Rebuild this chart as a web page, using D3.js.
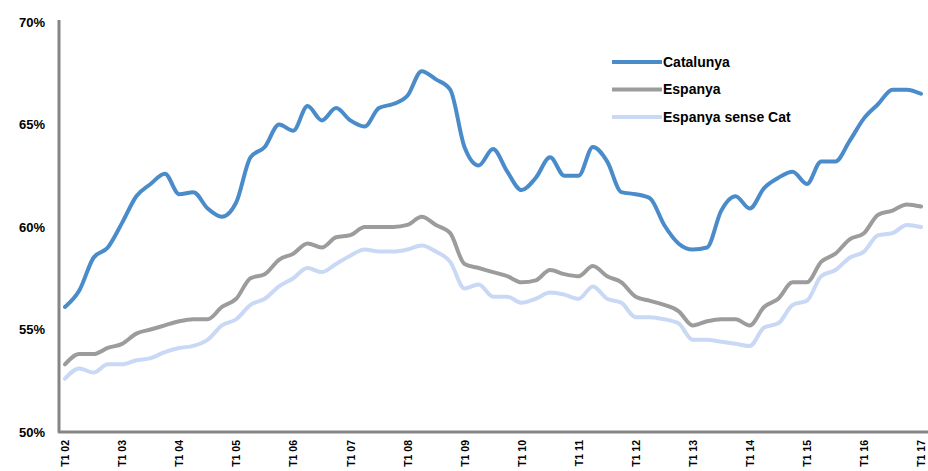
<!DOCTYPE html>
<html>
<head>
<meta charset="utf-8">
<script src="https://cdn.jsdelivr.net/npm/d3@7"></script>
<style>
  html, body { margin: 0; padding: 0; background: #fff; overflow: hidden; }
  svg text { font-family: "Liberation Sans", Arial, sans-serif; font-weight: bold; fill: #000; }
</style>
</head>
<body>
<svg id="chart" width="928" height="471"></svg>
<script>
// Quarterly rates, T1 2002 – T1 2017

const years = ["02", "03", "04", "05", "06", "07", "08", "09", "10", "11", "12", "13", "14", "15", "16", "17"];

const catalunya = [
  56.1, 56.9, 58.5, 59.0, 60.2, 61.5, 62.1, 62.6, 61.6, 61.7, 60.9, 60.5, 61.2, 63.4, 63.9, 65.0,
  64.7, 65.9, 65.2, 65.8, 65.2, 64.9, 65.8, 66.0, 66.4, 67.6, 67.2, 66.7, 63.9, 63.0, 63.8, 62.7,
  61.8, 62.4, 63.4, 62.5, 62.5, 63.9, 63.2, 61.7, 61.6, 61.4, 60.1, 59.2, 58.9, 59.0, 60.8, 61.5,
  60.9, 61.9, 62.4, 62.7, 62.1, 63.2, 63.2, 64.2, 65.3, 66.0, 66.7, 66.7, 66.5
];

const espanya = [
  53.3, 53.8, 53.8, 54.1, 54.3, 54.8, 55.0, 55.2, 55.4, 55.5, 55.5, 56.1, 56.5, 57.5, 57.7, 58.4,
  58.7, 59.2, 59.0, 59.5, 59.6, 60.0, 60.0, 60.0, 60.1, 60.5, 60.1, 59.7, 58.2, 58.0, 57.8, 57.6,
  57.3, 57.4, 57.9, 57.7, 57.6, 58.1, 57.6, 57.3, 56.6, 56.4, 56.2, 55.9, 55.2, 55.4, 55.5, 55.5,
  55.2, 56.1, 56.5, 57.3, 57.3, 58.3, 58.7, 59.4, 59.7, 60.6, 60.8, 61.1, 61.0
];

const espanyaSenseCat = [
  52.6, 53.1, 52.9, 53.3, 53.3, 53.5, 53.6, 53.9, 54.1, 54.2, 54.5, 55.2, 55.5, 56.2, 56.5, 57.1,
  57.5, 58.0, 57.8, 58.2, 58.6, 58.9, 58.8, 58.8, 58.9, 59.1, 58.8, 58.3, 57.0, 57.2, 56.6, 56.6,
  56.3, 56.5, 56.8, 56.7, 56.5, 57.1, 56.5, 56.3, 55.6, 55.6, 55.5, 55.3, 54.5, 54.5, 54.4, 54.3,
  54.2, 55.1, 55.3, 56.2, 56.4, 57.6, 57.9, 58.5, 58.8, 59.6, 59.7, 60.1, 60.0
];

const yTicks = [50, 55, 60, 65, 70];

const series = [
  { name: "Catalunya",         values: catalunya,       color: "#4a8bca" },
  { name: "Espanya",           values: espanya,         color: "#9c9c9c" },
  { name: "Espanya sense Cat", values: espanyaSenseCat, color: "#c9d8f5" }
];

// quarter labels "T1 02" ... "T1 17"
const periods = [];
years.forEach(y => {
  ["T1", "T2", "T3", "T4"].forEach(q => {
    if (periods.length < catalunya.length) periods.push(`${q} ${y}`);
  });
});

const svg = d3.select("#chart");
const margin = { top: 22, right: 7, bottom: 39, left: 65 };
const width = +svg.attr("width");
const height = +svg.attr("height");

const x = d3.scalePoint().domain(periods).range([margin.left, width - margin.right]);
const y = d3.scaleLinear().domain([50, 70]).range([height - margin.bottom, margin.top]);

// axis lines (Excel-style gray frame on left and bottom)
const axisColor = "#858585";
svg.append("path")
  .attr("d", `M59,${y(70) - 2} L59,${y(50)} L928,${y(50)}`)
  .attr("fill", "none")
  .attr("stroke", axisColor)
  .attr("stroke-width", 3)
  .attr("stroke-linejoin", "round");

// y labels
const yAxis = d3.axisLeft(y).tickValues(yTicks).tickFormat(d => d + "%").tickSize(0).tickPadding(0);
const gy = svg.append("g").attr("transform", "translate(45,0)").call(yAxis);
gy.select(".domain").remove();
gy.selectAll(".tick text").attr("font-size", 13).attr("font-family", null).attr("fill", "#000");

// x labels, rotated
const xAxis = d3.axisBottom(x).tickValues(periods.filter(p => p.startsWith("T1"))).tickSize(0);
const gx = svg.append("g").attr("transform", `translate(0,${y(50)})`).call(xAxis);
gx.select(".domain").remove();
gx.selectAll(".tick text")
  .attr("font-size", 10.5)
  .attr("font-family", null)
  .attr("fill", "#000")
  .attr("transform", "rotate(-90)")
  .attr("text-anchor", "end")
  .attr("x", -8)
  .attr("y", 0)
  .attr("dy", "0.35em");

const line = d3.line()
  .x((d, i) => x(periods[i]))
  .y(d => y(d))
  .curve(d3.curveMonotoneX);

// draw light series first so Catalunya sits on top
series.slice().reverse().forEach(s => {
  svg.append("path")
    .datum(s.values)
    .attr("fill", "none")
    .attr("stroke", s.color)
    .attr("stroke-width", 4)
    .attr("stroke-linejoin", "round")
    .attr("stroke-linecap", "round")
    .attr("d", line);
});

// legend
const legend = svg.append("g").attr("transform", "translate(612,62)");
series.forEach((s, i) => {
  const row = legend.append("g").attr("transform", `translate(0,${i * 27.5})`);
  row.append("line")
    .attr("x1", 0).attr("x2", 50)
    .attr("stroke", s.color)
    .attr("stroke-width", 4);
  row.append("text")
    .attr("x", 51)
    .attr("dy", "0.35em")
    .attr("font-size", 14)
    .text(s.name);
});
</script>
</body>
</html>
